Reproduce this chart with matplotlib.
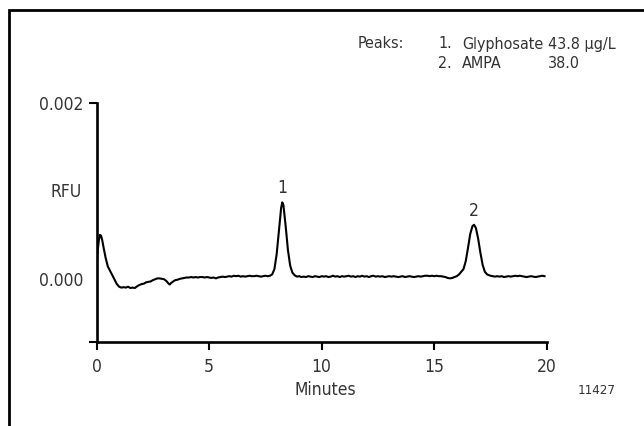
import numpy as np
import matplotlib
matplotlib.use("Agg")
import matplotlib.pyplot as plt
from matplotlib import font_manager
from matplotlib.patches import Rectangle

# condensed sans if available, else fall back to narrower families
fonts = font_manager.fontManager.ttflist
names = {f.name for f in fonts}
fs = 13
if 'Liberation Sans Narrow' in names:
    plt.rcParams['font.family'] = ['Liberation Sans Narrow', 'DejaVu Sans']
elif any(f.name == 'DejaVu Sans' and 'condensed' in str(f.stretch) for f in fonts):
    plt.rcParams['font.family'] = ['DejaVu Sans']
    plt.rcParams['font.stretch'] = 'condensed'
    fs = 12.5
else:
    plt.rcParams['font.family'] = ['Liberation Sans', 'DejaVu Sans']
    fs = 12

# chromatogram trace (time in minutes, signal in 1e-5 RFU)
minutes = [0.0, 0.05, 0.1, 0.15, 0.2, 0.25, 0.3, 0.4, 0.5, 0.6, 0.7, 0.8, 0.9,
           1.0, 1.1, 1.2, 1.3, 1.4, 1.5, 1.6, 1.7, 1.8, 1.9,
           2.0, 2.1, 2.2, 2.3, 2.4, 2.5, 2.6, 2.7, 2.8, 2.9,
           3.0, 3.1, 3.2, 3.25, 3.3, 3.4, 3.5, 3.6, 3.7, 3.8, 3.9,
           4.0, 4.1, 4.2, 4.3, 4.4, 4.5, 4.6, 4.7, 4.8, 4.9,
           5.0, 5.1, 5.2, 5.3, 5.4, 5.5, 5.6, 5.7, 5.8, 5.9,
           6.0, 6.1, 6.2, 6.3, 6.4, 6.5, 6.6, 6.7, 6.8, 6.9,
           7.0, 7.1, 7.2, 7.3, 7.4, 7.5, 7.6, 7.7, 7.8, 7.9,
           8.0, 8.1, 8.2, 8.25, 8.3, 8.4, 8.5, 8.6, 8.7, 8.8, 8.9,
           9.0, 9.1, 9.2, 9.3, 9.4, 9.5, 9.6, 9.7, 9.8, 9.9,
           10.0, 10.1, 10.2, 10.3, 10.4, 10.5, 10.6, 10.7, 10.8, 10.9,
           11.0, 11.1, 11.2, 11.3, 11.4, 11.5, 11.6, 11.7, 11.8, 11.9,
           12.0, 12.1, 12.2, 12.3, 12.4, 12.5, 12.6, 12.7, 12.8, 12.9,
           13.0, 13.1, 13.2, 13.3, 13.4, 13.5, 13.6, 13.7, 13.8, 13.9,
           14.0, 14.1, 14.2, 14.3, 14.4, 14.5, 14.6, 14.7, 14.8, 14.9,
           15.0, 15.1, 15.2, 15.3, 15.4, 15.5, 15.6, 15.7, 15.8, 15.9,
           16.0, 16.1, 16.2, 16.3, 16.4, 16.5, 16.6, 16.7, 16.77, 16.85,
           16.95, 17.05, 17.15, 17.25, 17.35, 17.5, 17.6, 17.7, 17.8, 17.9,
           18.0, 18.1, 18.2, 18.3, 18.4, 18.5, 18.6, 18.7, 18.8, 18.9,
           19.0, 19.1, 19.2, 19.3, 19.4, 19.5, 19.6, 19.7, 19.8, 19.9]
signal = [16, 32, 44, 50, 49, 44, 37, 24, 14, 9, 4, -1, -6,
          -9, -10, -9.5, -10, -9, -10.5, -10, -10.5, -8.5, -7,
          -6, -5.5, -4, -3.5, -3, -1.5, -0.5, 0.5, 0.5, 0,
          -0.5, -2.5, -5.5, -6.5, -5, -3, -1.5, -1, 0, 0.5, 1,
          1.5, 1.5, 2, 1.5, 2, 1.5, 2, 2, 1.5, 2,
          1.5, 1, 1.5, 0.5, 1.5, 2, 2.5, 2, 2.5, 3,
          2.5, 3.5, 3, 3.5, 2.5, 3, 2.5, 3, 3.5, 3,
          3, 3.5, 3, 2.5, 3, 3.5, 3, 3.5, 5, 11,
          28, 55, 81, 87, 84, 60, 33, 15, 7, 4, 2.5,
          3, 2, 2.5, 2, 3, 2.5, 2, 3, 2.5, 2,
          3, 2.5, 3, 2, 2.5, 3.5, 2.5, 3, 2, 3,
          2.5, 3, 3.5, 2.5, 3, 2, 3, 2.5, 3.5, 2.5,
          3, 2, 3, 3.5, 2.5, 3, 2.5, 3, 2, 2.5,
          3, 2.5, 3, 2.5, 2, 2.5, 3, 2, 2.5, 3,
          2.5, 2, 2.5, 3, 2.5, 3, 3.5, 3.5, 3, 3.5,
          3, 3.5, 3, 3, 2.5, 2, 1, 0.5, 1, 2,
          3, 5, 8, 11, 20, 35, 51, 60, 61.5, 58,
          46, 30, 16, 8, 5, 3.5, 3, 2.5, 3, 2.5,
          3, 2, 2.5, 3, 2.5, 3, 3.5, 3, 3.5, 3,
          2.5, 2, 2.5, 3, 2.5, 2, 2.5, 3, 3.5, 3]
rfu = np.array(signal) * 1e-5

# peak annotations
peak_labels = ['1', '2']
peak_times = [8.25, 16.77]
peak_label_y = [0.00103, 0.00077]

# legend table
peak_names = ['Glyphosate', 'AMPA']
peak_conc = ['43.8 \u00b5g/L', '38.0']

x_ticks = [0, 5, 10, 15, 20]
y_min, y_max = -0.00072, 0.002

text_color = '#333333'

fig = plt.figure(figsize=(6.44, 4.26), dpi=100)
ax = fig.add_axes([0.150, 0.197, 0.699, 0.561])

ax.plot(minutes, rfu, color='black', lw=1.5)

ax.set_xlim(0, 20)
ax.set_ylim(y_min, y_max)
ax.spines['top'].set_visible(False)
ax.spines['right'].set_visible(False)
for s in ['left', 'bottom']:
    ax.spines[s].set_linewidth(1.9)

ax.set_xticks(x_ticks)
ax.set_xticklabels([str(t) for t in x_ticks])
ax.tick_params(axis='x', direction='out', length=5.5, width=1.5, pad=6,
               labelsize=fs, labelcolor=text_color)

# y axis: tick only at top (and bottom stub), label at 0.000 without tick
ax.set_yticks([y_min, 0.002])
ax.set_yticklabels(['', '0.002'])
ax.set_yticks([0.0], minor=True)
ax.set_yticklabels(['0.000'], minor=True)
ax.tick_params(axis='y', which='major', direction='out', length=6, width=1.5,
               pad=3.5, labelsize=fs, labelcolor=text_color)
ax.tick_params(axis='y', which='minor', length=0, pad=9.5,
               labelsize=fs, labelcolor=text_color)

ax.set_ylabel('RFU', rotation=0, fontsize=fs, color=text_color,
              ha='center', va='center')
ax.yaxis.set_label_coords(-0.068, 0.628)
ax.set_xlabel('Minutes', fontsize=fs, color=text_color, va='center')
ax.xaxis.set_label_coords(0.507, -0.20)

for lab, t, y in zip(peak_labels, peak_times, peak_label_y):
    ax.text(t, y, lab, ha='center', va='center', fontsize=fs, color=text_color)


def fx(px):
    return px / 644


def fy(py):
    return 1 - py / 426


lfs = fs - 1
fig.text(fx(358), fy(44), 'Peaks:', ha='left', va='center', fontsize=lfs, color=text_color)
rows_y = [44, 63]
for i, (name, conc) in enumerate(zip(peak_names, peak_conc)):
    fig.text(fx(438), fy(rows_y[i]), f'{i + 1}.', ha='left', va='center', fontsize=lfs, color=text_color)
    fig.text(fx(462), fy(rows_y[i]), name, ha='left', va='center', fontsize=lfs, color=text_color)
    fig.text(fx(548), fy(rows_y[i]), conc, ha='left', va='center', fontsize=lfs, color=text_color)

fig.text(fx(597), fy(391), '11427', ha='center', va='center', fontsize=fs - 3, color=text_color)

# frame around the figure (cut off at right and bottom)
fig.patches.append(Rectangle((fx(8.7), -0.2), 1.5, fy(10.5) + 0.2,
                             transform=fig.transFigure, fill=False,
                             edgecolor='black', lw=2.0))

fig.savefig('out.png', dpi=100)
